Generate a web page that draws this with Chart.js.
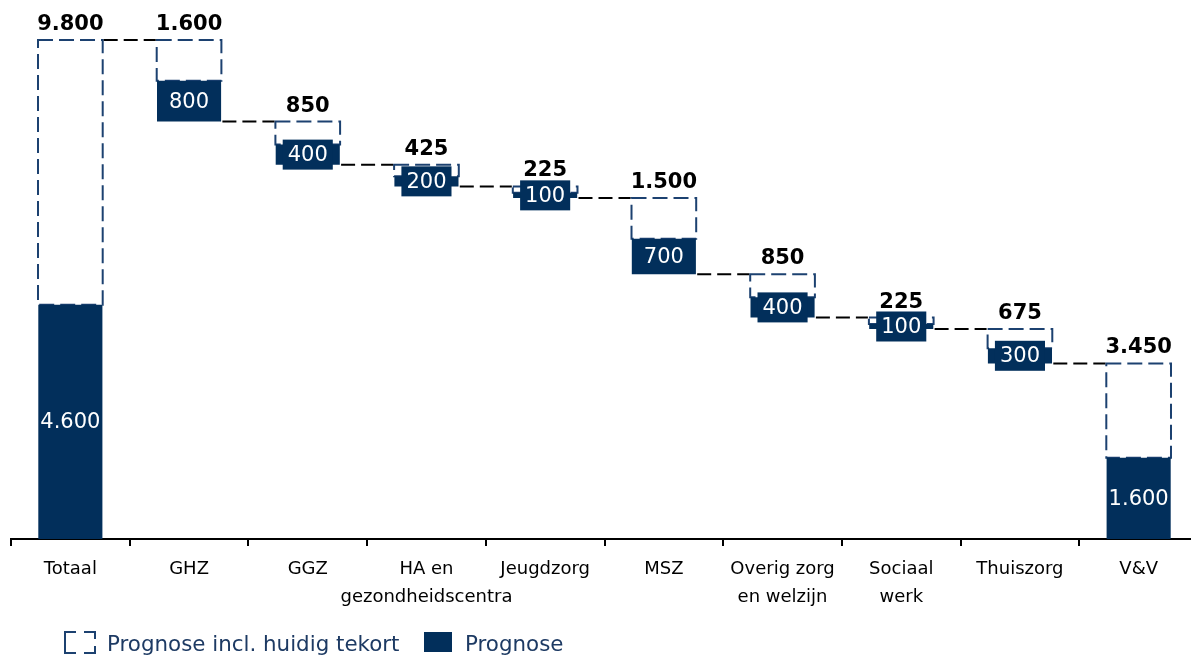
<!DOCTYPE html>
<html>
<head>
<meta charset="utf-8">
<script src="https://cdn.jsdelivr.net/npm/chart.js@4.4.1/dist/chart.umd.min.js"></script>
<style>
  html, body { margin: 0; padding: 0; background: #fff; overflow: hidden; }
  #wrap { width: 1198px; height: 655px; }
</style>
</head>
<body>
<div id="wrap"><canvas id="c" width="1198" height="655"></canvas></div>
<script>
// ---- data ----
const categories = ['Totaal', 'GHZ', 'GGZ', ['HA en', 'gezondheidscentra'], 'Jeugdzorg', 'MSZ',
  ['Overig zorg', 'en welzijn'], ['Sociaal', 'werk'], 'Thuiszorg', 'V&V'];
const inclTekort = [9800, 1600, 850, 425, 225, 1500, 850, 225, 675, 3450];
const prognose   = [4600, 800, 400, 200, 100, 700, 400, 100, 300, 1600];
const isTotal    = [true, false, false, false, false, false, false, false, false, true];
const seriesNames = ['Prognose incl. huidig tekort', 'Prognose'];

// ---- build floating ranges (waterfall) ----
const fullRanges = [];   // full extent incl. tekort
const dashedRanges = []; // part above the solid bar
const solidRanges = [];
let level = 0;
for (let i = 0; i < inclTekort.length; i++) {
  const bottom = isTotal[i] ? 0 : level - inclTekort[i];
  const top = isTotal[i] ? inclTekort[i] : level;
  fullRanges.push([bottom, top]);
  solidRanges.push([bottom, bottom + prognose[i]]);
  dashedRanges.push([bottom + prognose[i], top]);
  level = isTotal[i] ? top : bottom;
}

const NAVY = '#022f5b';
const OUTLINE = '#1c4170';
const FONT = '"DejaVu Sans", Verdana, sans-serif';
const fmt = v => String(v).replace(/\B(?=(\d{3})+(?!\d))/g, '.');

const waterfall = {
  id: 'waterfall',
  beforeDatasetsDraw(chart) {
    const ctx = chart.ctx;
    const els = chart.getDatasetMeta(0).data;
    const ys = chart.scales.y;
    ctx.save();
    // dashed outlines (under the solid bars)
    ctx.strokeStyle = OUTLINE;
    ctx.lineWidth = 2;
    ctx.setLineDash([15, 6]);
    els.forEach(el => {
      const p = el.getProps(['x', 'y', 'base', 'width'], true);
      const top = Math.min(p.y, p.base), bot = Math.max(p.y, p.base);
      ctx.strokeRect(p.x - p.width / 2, top, p.width, bot - top);
    });
    // connectors
    ctx.strokeStyle = '#000';
    ctx.setLineDash([14, 6]);
    for (let i = 0; i < els.length - 1; i++) {
      const a = els[i].getProps(['x', 'width'], true);
      const b = els[i + 1].getProps(['x', 'width'], true);
      const yy = ys.getPixelForValue(fullRanges[i + 1][1]);
      ctx.beginPath();
      ctx.moveTo(a.x + a.width / 2 + 1, yy);
      ctx.lineTo(b.x - b.width / 2 - 1, yy);
      ctx.stroke();
    }
    ctx.restore();
  },
  afterDatasetsDraw(chart) {
    const ctx = chart.ctx;
    const ys = chart.scales.y;
    ctx.save();
    // bold labels above dashed boxes
    const m0 = chart.getDatasetMeta(0).data;
    ctx.font = 'bold 21px ' + FONT;
    ctx.fillStyle = '#000';
    ctx.textAlign = 'center';
    ctx.textBaseline = 'alphabetic';
    m0.forEach((el, i) => {
      const p = el.getProps(['x'], true);
      ctx.fillText(fmt(inclTekort[i]), p.x, ys.getPixelForValue(fullRanges[i][1]) - 10);
    });
    // white labels inside solid bars
    const m1 = chart.getDatasetMeta(1).data;
    ctx.font = '21px ' + FONT;
    ctx.textBaseline = 'middle';
    m1.forEach((el, i) => {
      const p = el.getProps(['x', 'y', 'base'], true);
      const cy = (p.y + p.base) / 2;
      const txt = fmt(prognose[i]);
      const w = ctx.measureText(txt).width;
      if (Math.abs(p.base - p.y) < 32) {
        ctx.fillStyle = NAVY;
        ctx.fillRect(p.x - w / 2 - 5, cy - 15, w + 10, 30);
      }
      ctx.fillStyle = '#fff';
      ctx.fillText(txt, p.x, cy + 1);
    });
    ctx.restore();
  },
  afterDraw(chart) {
    // legend
    const ctx = chart.ctx;
    ctx.save();
    const y0 = 632, h = 21;
    ctx.strokeStyle = OUTLINE;
    ctx.lineWidth = 2;
    ctx.beginPath();
    ctx.moveTo(76, y0); ctx.lineTo(65, y0); ctx.lineTo(65, y0 + h); ctx.lineTo(76, y0 + h);
    ctx.moveTo(84, y0); ctx.lineTo(95, y0); ctx.lineTo(95, y0 + 7);
    ctx.moveTo(95, y0 + h - 7); ctx.lineTo(95, y0 + h); ctx.lineTo(84, y0 + h);
    ctx.stroke();
    ctx.fillStyle = NAVY;
    ctx.fillRect(424, 632, 28, 20);
    ctx.font = '21.4px ' + FONT;
    ctx.fillStyle = '#1d3a63';
    ctx.textAlign = 'left';
    ctx.textBaseline = 'alphabetic';
    ctx.fillText(seriesNames[0], 107, 651);
    ctx.fillText(seriesNames[1], 465, 651);
    ctx.restore();
  }
};

new Chart(document.getElementById('c'), {
  type: 'bar',
  data: {
    labels: categories,
    datasets: [
      {
        label: seriesNames[0],
        data: dashedRanges,
        backgroundColor: 'rgba(0,0,0,0)',
        borderWidth: 0,
        grouped: false,
        barPercentage: 0.545,
        categoryPercentage: 1
      },
      {
        label: seriesNames[1],
        data: solidRanges,
        backgroundColor: NAVY,
        borderWidth: 0,
        grouped: false,
        barPercentage: 0.54,
        categoryPercentage: 1
      }
    ]
  },
  options: {
    responsive: false,
    animation: false,
    devicePixelRatio: 1,
    layout: { padding: { left: 11, right: 0, top: 0, bottom: 34 } },
    plugins: {
      legend: { display: false },
      tooltip: { enabled: false }
    },
    scales: {
      x: {
        grid: { display: true, drawOnChartArea: false, drawTicks: true, tickLength: 7, color: '#000', lineWidth: 2, offset: true },
        border: { display: true, color: '#000', width: 2 },
        ticks: {
          color: '#000',
          padding: 9,
          maxRotation: 0,
          autoSkip: false,
          font: { family: FONT, size: 18, lineHeight: 1.58 }
        }
      },
      y: {
        display: false,
        min: 0,
        max: 10586
      }
    }
  },
  plugins: [waterfall]
});
</script>
</body>
</html>
